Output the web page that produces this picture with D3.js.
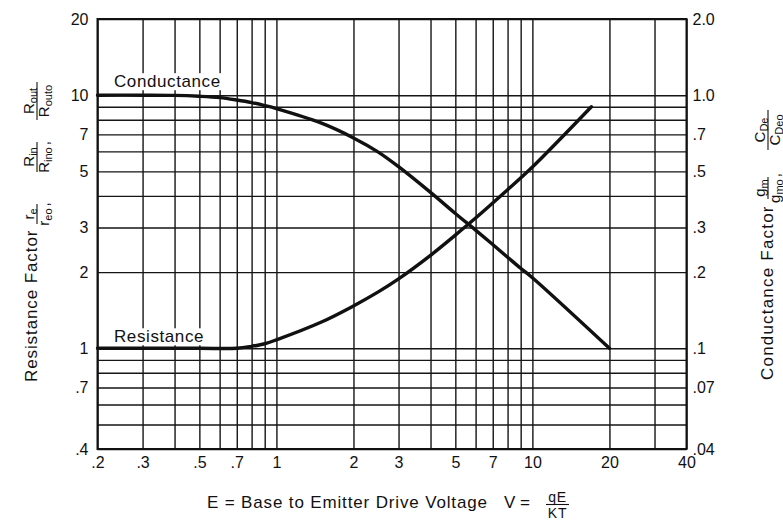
<!DOCTYPE html>
<html>
<head>
<meta charset="utf-8">
<script src="https://cdn.jsdelivr.net/npm/d3@7"></script>
<style>
  body { margin: 0; background: #fff; }
  svg { display: block; }
  text { font-family: "Liberation Sans", Arial, Helvetica, sans-serif; fill: #111; }
</style>
</head>
<body>
<div id="chart"></div>
<script>
// Values (log-log axes).
const gridXValues = [0.2, 0.3, 0.4, 0.5, 0.6, 0.7, 0.8, 0.9, 1, 2, 3, 4, 5, 6, 7, 8, 9, 10, 20, 30, 40];
const gridYValues = [0.4, 0.5, 0.6, 0.7, 0.8, 0.9, 1, 2, 3, 4, 5, 6, 7, 8, 9, 10, 20];

const xTickValues = [0.2, 0.3, 0.5, 0.7, 1, 2, 3, 5, 7, 10, 20, 40];
const xTickLabels = [".2", ".3", ".5", ".7", "1", "2", "3", "5", "7", "10", "20", "40"];
const leftTickValues = [20, 10, 7, 5, 3, 2, 1, 0.7, 0.4];
const leftTickLabels = ["20", "10", "7", "5", "3", "2", "1", ".7", ".4"];
const rightTickValues = [2, 1, 0.7, 0.5, 0.3, 0.2, 0.1, 0.07, 0.04];
const rightTickLabels = ["2.0", "1.0", ".7", ".5", ".3", ".2", ".1", ".07", ".04"];

// Conductance factor gm/gmo (right axis)
const conductanceV = [0.2, 0.3, 0.4, 0.5, 0.6, 0.7, 0.8, 0.9, 1, 1.5, 2, 2.5, 3, 4, 5, 6, 7, 8, 9, 10, 20];
const conductanceG = [1.0, 1.0, 0.998, 0.99, 0.978, 0.957, 0.935, 0.91, 0.885, 0.775, 0.678, 0.596, 0.522, 0.413, 0.341, 0.293, 0.257, 0.229, 0.207, 0.19, 0.1];

// Resistance factor re/reo (left axis)
const resistanceV = [0.2, 0.3, 0.5, 0.7, 0.8, 0.9, 1, 1.5, 2, 2.5, 3, 4, 5, 6, 7, 8, 10, 17];
const resistanceR = [1, 1, 1, 1.0, 1.018, 1.042, 1.08, 1.27, 1.47, 1.67, 1.88, 2.33, 2.8, 3.27, 3.75, 4.23, 5.2, 9.0];

const WIDTH = 783, HEIGHT = 520;
const PLOT = { left: 97.5, right: 686.5, top: 19, bottom: 449 };

const svg = d3.select("#chart").append("svg")
    .attr("width", WIDTH)
    .attr("height", HEIGHT);

const xScale = d3.scaleLog().domain([0.2, 40]).range([PLOT.left, PLOT.right]);
const yLeft = d3.scaleLog().domain([0.4, 20]).range([PLOT.bottom, PLOT.top]);
const yRight = d3.scaleLog().domain([0.04, 2]).range([PLOT.bottom, PLOT.top]);

// Grid lines built from axes with full-length ticks
const gridX = svg.append("g")
    .attr("transform", `translate(0,${PLOT.bottom})`)
    .call(d3.axisBottom(xScale).tickValues(gridXValues).tickSize(-(PLOT.bottom - PLOT.top)).tickFormat(""));
const gridY = svg.append("g")
    .attr("transform", `translate(${PLOT.left},0)`)
    .call(d3.axisLeft(yLeft).tickValues(gridYValues).tickSize(-(PLOT.right - PLOT.left)).tickFormat(""));
[gridX, gridY].forEach(g => {
    g.select(".domain").remove();
    g.selectAll("text").remove();
    g.selectAll("line").attr("stroke", "#151515").attr("stroke-width", 1.4);
});

svg.append("rect")
    .attr("x", PLOT.left).attr("y", PLOT.top)
    .attr("width", PLOT.right - PLOT.left).attr("height", PLOT.bottom - PLOT.top)
    .attr("fill", "none").attr("stroke", "#111").attr("stroke-width", 2);

// Curve labels sit on white boxes that break the grid
const curveLabel = (text, x, y) => {
    const t = svg.append("text")
        .attr("x", x).attr("y", y)
        .attr("font-size", 17).attr("letter-spacing", 0.6)
        .text(text);
    const b = t.node().getBBox();
    svg.insert("rect", () => t.node())
        .attr("x", b.x - 2).attr("y", b.y + 1)
        .attr("width", b.width + 4).attr("height", b.height - 2)
        .attr("fill", "#fff");
};
curveLabel("Conductance", xScale(0.232), yLeft(10) - 8);
curveLabel("Resistance", xScale(0.232), yLeft(1) - 6);

const line = (yScale) => d3.line()
    .curve(d3.curveCatmullRom.alpha(0.5))
    .x(d => xScale(d[0]))
    .y(d => yScale(d[1]));

svg.append("path")
    .attr("d", line(yRight)(d3.zip(conductanceV, conductanceG)))
    .attr("fill", "none").attr("stroke", "#111")
    .attr("stroke-width", 3.4).attr("stroke-linecap", "round");

svg.append("path")
    .attr("d", line(yLeft)(d3.zip(resistanceV, resistanceR)))
    .attr("fill", "none").attr("stroke", "#111")
    .attr("stroke-width", 3.4).attr("stroke-linecap", "round");

// Tick labels
const styleAxis = g => {
    g.select(".domain").remove();
    g.attr("font-family", null).attr("font-size", null);
    g.selectAll("text").attr("font-size", 16).attr("fill", "#111");
};
svg.append("g")
    .attr("transform", `translate(${PLOT.left},0)`)
    .call(d3.axisLeft(yLeft).tickValues(leftTickValues).tickSize(0).tickPadding(9)
        .tickFormat((d, i) => leftTickLabels[i]))
    .call(styleAxis);
svg.append("g")
    .attr("transform", `translate(${PLOT.right},0)`)
    .call(d3.axisRight(yRight).tickValues(rightTickValues).tickSize(0).tickPadding(6)
        .tickFormat((d, i) => rightTickLabels[i]))
    .call(styleAxis);
svg.append("g")
    .attr("transform", `translate(0,${PLOT.bottom})`)
    .call(d3.axisBottom(xScale).tickValues(xTickValues).tickSize(0).tickPadding(8)
        .tickFormat((d, i) => xTickLabels[i]))
    .call(styleAxis);

// Stacked fraction: num/den are [main, subscript]
const fraction = (g, cx, barY, barW, num, den, tail) => {
    const part = (y, [main, sub], extra) => {
        const t = g.append("text").attr("x", cx).attr("y", y)
            .attr("text-anchor", "middle").attr("font-size", 15);
        t.append("tspan").text(main);
        t.append("tspan").attr("font-size", 11).attr("dy", 2.5).text(sub);
        if (extra) t.append("tspan").attr("dy", -2.5).attr("dx", 2).text(extra);
    };
    part(barY - 3, num);
    g.append("line")
        .attr("x1", cx - barW / 2).attr("x2", cx + barW / 2)
        .attr("y1", barY).attr("y2", barY)
        .attr("stroke", "#111").attr("stroke-width", 1.1);
    part(barY + 12, den, tail);
};

// Left title
const leftTitle = svg.append("g").attr("transform", "translate(37,382) rotate(-90)");
leftTitle.append("text").attr("font-size", 17).attr("letter-spacing", 0.9).text("Resistance Factor");
fraction(leftTitle, 168, 0, 20, ["r", "e"], ["r", "eo"], ",");
fraction(leftTitle, 225, 0, 30, ["R", "in"], ["R", "ino"], ",");
fraction(leftTitle, 281, 0, 38, ["R", "out"], ["R", "outo"]);

// Right title
const rightTitle = svg.append("g").attr("transform", "translate(773,380) rotate(-90)");
rightTitle.append("text").attr("font-size", 17).attr("letter-spacing", 1.2).text("Conductance Factor");
fraction(rightTitle, 192, -5, 22, ["g", "m"], ["g", "mo"], ",");
fraction(rightTitle, 250, -5, 40, ["C", "De"], ["C", "Deo"]);

// Bottom title
svg.append("text")
    .attr("x", 207).attr("y", 508)
    .attr("font-size", 17).attr("letter-spacing", 0.85)
    .text("E = Base to Emitter Drive Voltage");
svg.append("text")
    .attr("x", 504).attr("y", 508)
    .attr("font-size", 17)
    .text("V =");
const vFrac = svg.append("g");
vFrac.append("text").attr("x", 557.5).attr("y", 502).attr("text-anchor", "middle")
    .attr("font-size", 14).attr("letter-spacing", 0.8).text("qE");
vFrac.append("line").attr("x1", 546).attr("x2", 569).attr("y1", 504.5).attr("y2", 504.5)
    .attr("stroke", "#111").attr("stroke-width", 1.1);
vFrac.append("text").attr("x", 557.5).attr("y", 518).attr("text-anchor", "middle")
    .attr("font-size", 14).attr("letter-spacing", 0.8).text("KT");
</script>
</body>
</html>
